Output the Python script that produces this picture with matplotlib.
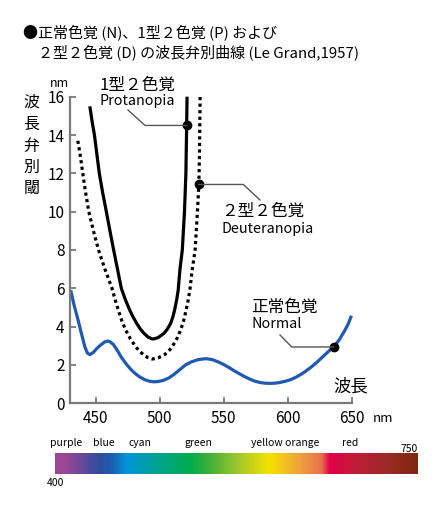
import numpy as np
import matplotlib
matplotlib.use("Agg")
import matplotlib.pyplot as plt
from matplotlib.lines import Line2D
from matplotlib.transforms import IdentityTransform
from matplotlib.colors import LinearSegmentedColormap

plt.rcParams['font.family'] = ['Noto Sans CJK JP', 'DejaVu Sans']

# ---------------- data ----------------
normal_x = [430.5, 433, 436, 439, 441.5, 443.5, 445.5, 448, 451, 454, 457, 459.5, 461.5,
            464, 467, 470, 473.5, 477, 480, 484, 488, 492, 495.5, 499, 503, 507, 511,
            515, 520, 525, 530, 536, 541, 546, 550, 554, 558, 562, 566, 570, 574, 578,
            582, 586, 590, 594, 598, 602, 606, 610, 614, 618, 622, 626, 630, 634, 636,
            640, 644, 647, 649.6]
normal_y = [5.9, 5.15, 4.4, 3.6, 2.95, 2.62, 2.54, 2.65, 2.87, 3.05, 3.2, 3.25, 3.2,
            3.05, 2.75, 2.4, 2.08, 1.8, 1.6, 1.39, 1.24, 1.15, 1.12, 1.14, 1.2, 1.32, 1.5,
            1.72, 2.0, 2.17, 2.28, 2.33, 2.28, 2.15, 2.02, 1.87, 1.7, 1.55, 1.4, 1.27, 1.16, 1.09,
            1.05, 1.04, 1.05, 1.09, 1.15, 1.23, 1.35, 1.5, 1.68, 1.88, 2.1, 2.35, 2.6, 2.85, 2.97,
            3.3, 3.75, 4.12, 4.57]

protan_x = [445.4, 447.2, 449.0, 450.9, 452.8, 455.4, 458.3, 461.1, 464.0, 467.0, 470.0,
            473.2, 476.5, 479.2, 482.0, 484.8, 487.7, 491.0, 494.5, 498.5, 503.3, 506.2,
            508.5, 510.2, 511.6, 513.2, 514.4, 515.7, 517.6, 519.3, 520.4, 521.0, 521.3]
protan_y = [15.5, 14.7, 14.0, 13.0, 12.0, 11.0, 10.0, 9.0, 8.0, 7.0, 6.0,
            5.4, 4.87, 4.5, 4.17, 3.88, 3.65, 3.45, 3.35, 3.42, 3.65, 3.9,
            4.17, 4.5, 4.87, 5.4, 5.91, 6.95, 8.0, 10.0, 12.0, 14.5, 16.0]

deuter_x = [436.0, 437.8, 439.9, 442.1, 444.6, 448.2, 452.2, 457.2, 462.7, 465.2, 467.6,
            470.4, 473.4, 477.2, 481.2, 484.4, 487.7, 490.8, 494.2, 498.7, 503.3, 506.6,
            509.7, 513.2, 516.3, 518.6, 520.6, 522.2, 523.5, 525.3, 527.6, 529.4, 530.5,
            531.0, 531.5]
deuter_y = [13.7, 13.0, 12.0, 11.0, 10.0, 9.0, 8.0, 7.0, 6.0, 5.4, 4.87,
            4.3, 3.82, 3.35, 2.95, 2.7, 2.52, 2.38, 2.31, 2.37, 2.52, 2.7,
            2.95, 3.35, 3.82, 4.3, 4.87, 5.4, 5.91, 6.95, 8.0, 10.0, 11.42,
            13.0, 16.0]

# highlighted points
protan_pt = (521.0, 14.5)
deuter_pt = (530.5, 11.42)
normal_pt = (635.8, 2.94)

x_ticks = [450, 500, 550, 600, 650]
y_ticks = [0, 2, 4, 6, 8, 10, 12, 14, 16]

title_lines = ["●正常色覚 (N)、1型２色覚 (P) および",
               "２型２色覚 (D) の波長弁別曲線 (Le Grand,1957)"]
ylabel_chars = ["波", "長", "弁", "別", "閾"]

spectrum_labels = ["purple", "blue", "cyan", "green", "yellow orange", "red"]
spectrum_range = ["400", "750"]
spectrum_stops = [0.0, 0.028, 0.124, 0.152, 0.198, 0.289, 0.372, 0.419, 0.51,
                  0.592, 0.675, 0.736, 0.758, 0.826, 0.909, 1.0]
spectrum_colors = ["#9b4596", "#9b4596", "#2f4d9e", "#1e5bb0", "#0096d6", "#00a38a",
                   "#00ad4c", "#3aae3a", "#a7c82b", "#f5e300", "#f0a040", "#e8704a",
                   "#e3004a", "#c01e38", "#a02828", "#7e2910"]

# ---------------- figure ----------------
W, H = 444, 505
fig = plt.figure(figsize=(W / 100, H / 100), dpi=100)
fig.patch.set_facecolor("white")


def fpos(px, py):
    return px / W, 1 - py / H


def ftext(px, py, s, **kw):
    x, y = fpos(px, py)
    fig.text(x, y, s, **kw)


ax_l, ax_r, ax_t, ax_b = 70.1, 351.9, 96.7, 403.3
ax = fig.add_axes([ax_l / W, 1 - ax_b / H, (ax_r - ax_l) / W, (ax_b - ax_t) / H])
ax.set_xlim(430, 650)
ax.set_ylim(0, 16)
ax.patch.set_alpha(0)

spine_col = "#7a7a7a"
for s in ["top", "right"]:
    ax.spines[s].set_visible(False)
for s in ["left", "bottom"]:
    ax.spines[s].set_color(spine_col)
    ax.spines[s].set_linewidth(1.6)

ax.set_xticks(x_ticks)
ax.set_yticks(y_ticks)
ax.set_xticklabels([str(v) for v in x_ticks])
ax.set_yticklabels([str(v) for v in y_ticks])
ax.tick_params(axis="both", direction="in", length=4.5, width=1.3, color=spine_col,
               labelsize=11, labelcolor="black")
ax.tick_params(axis="x", pad=5)
ax.tick_params(axis="y", pad=4)

blue = "#1e5ab4"
ax.plot(normal_x, normal_y, color=blue, lw=2.3, solid_capstyle="butt", clip_on=False)
ax.plot(protan_x, protan_y, color="black", lw=2.3, solid_capstyle="butt", clip_on=False)
ax.plot(deuter_x, deuter_y, color="black", lw=2.3, linestyle=(0, (1, 1.05)),
        dash_capstyle="butt", clip_on=False)

for pt in [protan_pt, deuter_pt, normal_pt]:
    ax.plot([pt[0]], [pt[1]], "o", color="black", ms=6, clip_on=False, zorder=5)

# leader lines in pixel coordinates anchored on the points
fig.canvas.draw()


def to_px(pt):
    dx, dy = ax.transData.transform(pt)
    return dx, H - dy


def leader(pts_px):
    xs = [p[0] for p in pts_px]
    ys = [H - p[1] for p in pts_px]
    fig.add_artist(Line2D(xs, ys, transform=IdentityTransform(), color="#555555", lw=1.0))


pp = to_px(protan_pt)
leader([(128, 110), (145, pp[1]), pp])
dp = to_px(deuter_pt)
leader([dp, (243.3, dp[1]), (260, 200)])
npx = to_px(normal_pt)
leader([npx, (291.7, npx[1]), (280, 335)])

# ---------------- texts ----------------
ftext(23, 37, title_lines[0], fontsize=10.8, va="baseline", ha="left")
ftext(38, 57, title_lines[1], fontsize=10.8, va="baseline", ha="left")

for ch, by in zip(ylabel_chars, [107, 129, 151, 172, 193]):
    ftext(31.5, by, ch, fontsize=11.5, va="baseline", ha="center")

ftext(59, 87, "nm", fontsize=9, va="baseline", ha="center")
ftext(373, 422, "nm", fontsize=9.5, va="baseline", ha="left")

ftext(99, 89.5, "1型２色覚", fontsize=12, va="baseline", ha="left")
ftext(99, 105, "Protanopia", fontsize=10.3, va="baseline", ha="left")

ftext(221, 216, "２型２色覚", fontsize=12, va="baseline", ha="left")
ftext(221, 233.5, "Deuteranopia", fontsize=10.3, va="baseline", ha="left")

ftext(251, 311.5, "正常色覚", fontsize=12, va="baseline", ha="left")
ftext(251, 328.5, "Normal", fontsize=10.3, va="baseline", ha="left")

ftext(333, 391, "波長", fontsize=12.5, va="baseline", ha="left")

# ---------------- spectrum bar ----------------
bl, br, bt, bb = 55, 418, 453, 474
cax = fig.add_axes([bl / W, 1 - bb / H, (br - bl) / W, (bb - bt) / H])
cmap = LinearSegmentedColormap.from_list("spec", list(zip(spectrum_stops, spectrum_colors)))
grad = np.linspace(0, 1, 512).reshape(1, -1)
cax.imshow(grad, aspect="auto", cmap=cmap, extent=[0, 1, 0, 1])
cax.set_axis_off()

for lab, lx in zip(spectrum_labels, [50, 93, 128, 184, 251, 342]):
    ftext(lx, 446, lab, fontsize=7.5, va="baseline", ha="left")
ftext(418, 451.7, spectrum_range[1], fontsize=7.5, va="baseline", ha="right")
ftext(47, 485.7, spectrum_range[0], fontsize=7.5, va="baseline", ha="left")

fig.savefig("out.png", dpi=100, facecolor="white")
